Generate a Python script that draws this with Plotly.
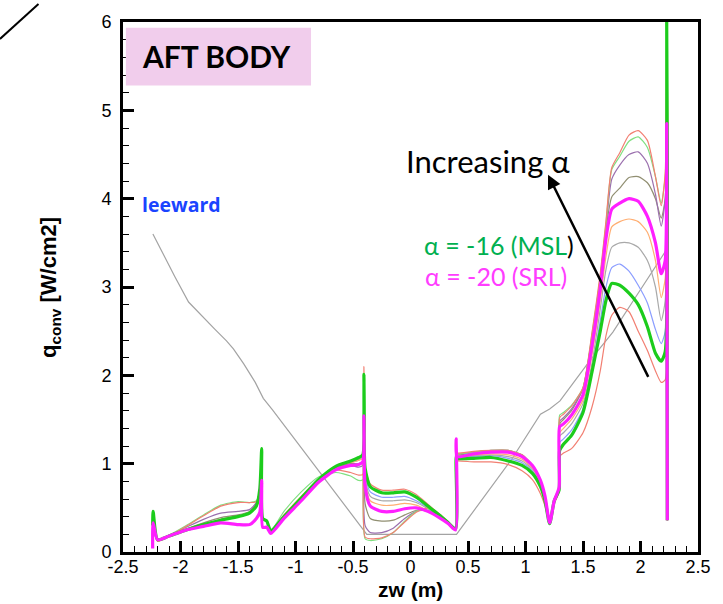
import plotly.graph_objects as go

# ---------------- data ----------------
zw = [
    # segment A
    -2.242, -2.238, -2.20, -2.10, -1.95, -1.80, -1.65, -1.50, -1.40, -1.34, -1.31, -1.294, -1.285, -1.25, -1.215,
    # segment B
    -1.10, -0.95, -0.80, -0.65, -0.52, -0.45, -0.415, -0.405,
    # segment C
    -0.395, -0.35, -0.25, -0.15, -0.05, 0.05, 0.15, 0.25, 0.33, 0.392,
    # segment D
    0.397, 0.405, 0.55, 0.70, 0.85, 0.97, 1.06, 1.13, 1.17, 1.21, 1.25, 1.292,
    # segment E
    1.297, 1.33, 1.40, 1.50, 1.58, 1.65, 1.70, 1.75, 1.82, 1.90, 1.98, 2.06, 2.13, 2.18, 2.215, 2.228, 2.233,
]

q_red_low = [
    0.30, 0.46, 0.13, 0.18, 0.25, 0.31, 0.36, 0.40, 0.45, 0.56, 0.70, 0.95, 0.38, 0.35, 0.24,
    0.40, 0.61, 0.81, 0.95, 1.02, 1.06, 1.10, 2.10,
    0.97, 0.77, 0.70, 0.70, 0.71, 0.65, 0.54, 0.43, 0.33, 0.26,
    1.02, 1.03, 1.02, 1.02, 0.99, 0.92, 0.82, 0.66, 0.52, 0.32, 0.55, 0.68,
    1.08, 1.12, 1.17, 1.35, 1.65, 2.05, 2.45, 2.68, 2.77, 2.72, 2.50, 2.28, 2.05, 1.92, 1.95, 6.0, 0.36,
]
q_green_msl = [
    0.30, 0.46, 0.14, 0.18, 0.25, 0.31, 0.36, 0.40, 0.44, 0.52, 0.72, 1.17, 0.38, 0.35, 0.24,
    0.40, 0.61, 0.82, 0.97, 1.03, 1.07, 1.10, 2.01,
    0.95, 0.74, 0.67, 0.67, 0.68, 0.62, 0.52, 0.42, 0.33, 0.26,
    1.08, 1.06, 1.06, 1.07, 1.03, 0.98, 0.89, 0.74, 0.58, 0.32, 0.58, 0.70,
    1.15, 1.22, 1.32, 1.58, 2.05, 2.50, 2.85, 3.04, 3.02, 2.93, 2.80, 2.55, 2.25, 2.16, 2.27, 6.0, 0.36,
]
q_blue = [
    0.30, 0.46, 0.14, 0.18, 0.25, 0.31, 0.36, 0.40, 0.44, 0.54, 0.70, 1.10, 0.38, 0.35, 0.24,
    0.40, 0.60, 0.81, 0.96, 1.02, 1.05, 1.08, 1.95,
    0.90, 0.68, 0.62, 0.62, 0.63, 0.58, 0.50, 0.41, 0.33, 0.26,
    1.08, 1.07, 1.08, 1.09, 1.06, 1.01, 0.92, 0.77, 0.60, 0.33, 0.58, 0.71,
    1.24, 1.28, 1.38, 1.62, 2.08, 2.62, 3.00, 3.22, 3.26, 3.18, 3.02, 2.82, 2.52, 2.36, 2.50, 6.0, 0.36,
]
q_gray = [
    0.30, 0.46, 0.14, 0.18, 0.25, 0.31, 0.36, 0.40, 0.44, 0.54, 0.70, 1.05, 0.38, 0.35, 0.24,
    0.40, 0.60, 0.80, 0.95, 1.01, 1.04, 1.07, 1.90,
    0.85, 0.63, 0.58, 0.58, 0.59, 0.56, 0.49, 0.41, 0.33, 0.26,
    1.09, 1.08, 1.09, 1.10, 1.08, 1.03, 0.94, 0.78, 0.61, 0.33, 0.58, 0.72,
    1.31, 1.35, 1.45, 1.68, 2.15, 2.75, 3.20, 3.45, 3.50, 3.50, 3.45, 3.30, 3.00, 2.62, 2.85, 6.0, 0.36,
]
q_orange = [
    0.30, 0.46, 0.14, 0.18, 0.25, 0.31, 0.37, 0.41, 0.45, 0.55, 0.70, 1.00, 0.38, 0.35, 0.24,
    0.40, 0.60, 0.80, 0.95, 1.01, 1.04, 1.06, 1.85,
    0.80, 0.58, 0.53, 0.53, 0.55, 0.53, 0.47, 0.40, 0.33, 0.26,
    1.10, 1.09, 1.10, 1.11, 1.10, 1.05, 0.95, 0.79, 0.62, 0.33, 0.58, 0.72,
    1.35, 1.40, 1.50, 1.72, 2.25, 2.85, 3.35, 3.68, 3.74, 3.77, 3.74, 3.62, 3.30, 2.88, 3.10, 6.0, 0.36,
]
q_magenta_srl = [
    0.04, 0.33, 0.14, 0.18, 0.25, 0.29, 0.33, 0.31, 0.31, 0.38, 0.45, 0.81, 0.28, 0.28, 0.21,
    0.38, 0.58, 0.79, 0.93, 0.98, 0.99, 1.02, 1.54,
    0.75, 0.52, 0.46, 0.46, 0.49, 0.50, 0.46, 0.39, 0.32, 0.25,
    1.28, 1.08, 1.11, 1.13, 1.13, 1.08, 0.98, 0.81, 0.63, 0.33, 0.58, 0.73,
    1.42, 1.45, 1.55, 1.78, 2.35, 2.98, 3.55, 3.88, 3.95, 4.00, 3.97, 3.80, 3.50, 3.15, 3.30, 4.85, 0.36,
]
q_olive = [
    0.30, 0.46, 0.14, 0.18, 0.26, 0.33, 0.39, 0.42, 0.46, 0.56, 0.70, 0.95, 0.38, 0.35, 0.24,
    0.40, 0.60, 0.80, 0.95, 1.00, 1.00, 1.02, 1.70,
    0.55, 0.38, 0.35, 0.36, 0.42, 0.47, 0.46, 0.40, 0.33, 0.26,
    1.12, 1.10, 1.12, 1.14, 1.14, 1.09, 0.97, 0.80, 0.63, 0.34, 0.58, 0.72,
    1.45, 1.50, 1.60, 1.85, 2.45, 3.10, 3.65, 4.02, 4.12, 4.24, 4.25, 4.18, 4.00, 3.78, 4.00, 6.0, 0.36,
]
q_purple = [
    0.30, 0.46, 0.14, 0.19, 0.28, 0.37, 0.44, 0.46, 0.48, 0.56, 0.68, 0.90, 0.38, 0.35, 0.24,
    0.40, 0.60, 0.80, 0.95, 0.98, 0.96, 0.98, 1.60,
    0.30, 0.22, 0.22, 0.27, 0.38, 0.46, 0.47, 0.41, 0.33, 0.26,
    1.12, 1.11, 1.13, 1.15, 1.15, 1.10, 0.98, 0.81, 0.63, 0.34, 0.58, 0.72,
    1.48, 1.52, 1.62, 1.85, 2.45, 3.10, 3.68, 4.22, 4.38, 4.50, 4.53, 4.40, 4.05, 3.69, 4.00, 6.0, 0.36,
]
q_lightgreen = [
    0.30, 0.46, 0.13, 0.19, 0.30, 0.42, 0.53, 0.57, 0.56, 0.58, 0.68, 0.90, 0.38, 0.35, 0.24,
    0.46, 0.68, 0.85, 0.90, 0.86, 0.81, 0.82, 1.50,
    0.15, 0.13, 0.15, 0.22, 0.35, 0.46, 0.49, 0.42, 0.34, 0.26,
    1.12, 1.11, 1.13, 1.15, 1.15, 1.10, 0.98, 0.81, 0.63, 0.34, 0.58, 0.72,
    1.55, 1.58, 1.66, 1.86, 2.48, 3.12, 3.72, 4.33, 4.48, 4.65, 4.70, 4.58, 4.25, 3.95, 4.25, 6.0, 0.36,
]
q_red_top = [
    0.30, 0.46, 0.12, 0.18, 0.29, 0.41, 0.52, 0.56, 0.56, 0.57, 0.68, 0.92, 0.38, 0.35, 0.24,
    0.42, 0.63, 0.82, 0.93, 0.90, 0.87, 0.88, 1.45,
    0.17, 0.15, 0.16, 0.22, 0.34, 0.45, 0.50, 0.43, 0.34, 0.26,
    1.13, 1.12, 1.14, 1.15, 1.15, 1.10, 0.98, 0.80, 0.62, 0.34, 0.58, 0.72,
    1.52, 1.56, 1.65, 1.86, 2.50, 3.15, 3.75, 4.35, 4.52, 4.72, 4.77, 4.66, 4.25, 3.92, 4.30, 6.0, 0.36,
]

zw_leeward = [-2.24, -2.15, -2.05, -1.93, -1.80, -1.70, -1.60, -1.54, -1.45, -1.35, -1.28, -1.20,
              -0.38, 0.40, 0.88, 1.13, 1.21, 1.30, 1.55, 1.76, 1.93, 2.23]
q_leeward = [3.60, 3.37, 3.12, 2.83, 2.65, 2.52, 2.39, 2.30, 2.13, 1.92, 1.74, 1.61,
             0.20, 0.20, 1.05, 1.56, 1.62, 1.71, 2.15, 2.49, 2.83, 3.43]

x_tick_vals = [-2.5, -2, -1.5, -1, -0.5, 0, 0.5, 1, 1.5, 2, 2.5]
x_tick_text = ["-2.5", "-2", "-1.5", "-1", "-0.5", "0", "0.5", "1", "1.5", "2", "2.5"]
y_tick_vals = [0, 1, 2, 3, 4, 5, 6]
y_tick_text = ["0", "1", "2", "3", "4", "5", "6"]

# ---------------- figure ----------------
fig = go.Figure()

thin_series = [
    ("red_low", q_red_low, "#f27f72"),
    ("blue", q_blue, "#8b9dff"),
    ("gray", q_gray, "#a9a9a9"),
    ("orange", q_orange, "#ffae72"),
    ("olive", q_olive, "#918f72"),
    ("purple", q_purple, "#9b70ae"),
    ("lightgreen", q_lightgreen, "#80e080"),
    ("red_top", q_red_top, "#f27f72"),
]

SM = 0.6
fig.add_trace(go.Scatter(x=zw_leeward, y=q_leeward, mode="lines",
                         line=dict(color="#a3a3a3", width=1.2), name="leeward"))
for name, ys, col in thin_series:
    fig.add_trace(go.Scatter(x=zw, y=ys, mode="lines",
                             line=dict(color=col, width=1.2, shape="spline", smoothing=SM), name=name))
fig.add_trace(go.Scatter(x=zw, y=q_green_msl, mode="lines",
                         line=dict(color="#1ccc1c", width=3.2, shape="spline", smoothing=SM), name="alpha=-16 (MSL)"))
fig.add_trace(go.Scatter(x=zw, y=q_magenta_srl, mode="lines",
                         line=dict(color="#ff1fff", width=3.2, shape="spline", smoothing=SM), name="alpha=-20 (SRL)"))

axis_common = dict(
    showgrid=False, zeroline=False, showline=True, linecolor="black", linewidth=3,
    mirror=True, ticks="inside", ticklen=11, tickwidth=2.5, tickcolor="black",
    tickfont=dict(family="Liberation Sans, Arial", size=18, color="black"),
)
fig.update_xaxes(range=[-2.5, 2.5], tickmode="array", tickvals=x_tick_vals, ticktext=x_tick_text,
                 ticklabelstandoff=-4,
                 minor=dict(dtick=0.1, ticks="inside", ticklen=6, tickwidth=1.3, tickcolor="black"),
                 **axis_common)
fig.update_yaxes(range=[0, 6], tickmode="array", tickvals=y_tick_vals, ticktext=y_tick_text,
                 ticklabelstandoff=5,
                 minor=dict(dtick=0.2, ticks="inside", ticklen=6, tickwidth=1.3, tickcolor="black"),
                 **axis_common)

fig.update_layout(
    width=723, height=604,
    margin=dict(l=123, r=25, t=18, b=52),
    paper_bgcolor="white", plot_bgcolor="white",
    showlegend=False,
    shapes=[
        dict(type="rect", xref="paper", yref="paper", x0=0.005, x1=0.327, y0=0.880, y1=0.989,
             fillcolor="#f1cdec", line=dict(width=0), layer="above"),
        dict(type="line", xref="paper", yref="paper", x0=-0.214, y0=0.968, x1=-0.147, y1=1.034,
             line=dict(color="black", width=2)),
    ],
    annotations=[
        dict(text="<b>AFT BODY</b>", xref="paper", yref="paper", x=0.162, y=0.936,
             showarrow=False, font=dict(family="Lato", size=30, color="black"),
             xanchor="center", yanchor="middle"),
        dict(text="<b>leeward</b>", x=-1.987, y=3.93, showarrow=False,
             font=dict(family="Open Sans", size=19.5, color="#1a44ff"), xanchor="center", yanchor="middle"),
        dict(text="Increasing α", x=0.674, y=4.43, showarrow=False,
             font=dict(family="Lato", size=31, color="black"), xanchor="center", yanchor="middle"),
        dict(text="", x=1.196, y=4.27, ax=2.074, ay=1.966, axref="x", ayref="y",
             showarrow=True, arrowhead=2, arrowsize=1.1, arrowwidth=2.5, arrowcolor="black"),
        dict(text="α = -16 (MSL<span style='color:black'>)</span>", x=0.77, y=3.47, showarrow=False,
             font=dict(family="Lato", size=25, color="#00b050"), xanchor="center", yanchor="middle"),
        dict(text="α = -20 (SRL)", x=0.745, y=3.12, showarrow=False,
             font=dict(family="Lato", size=25, color="#ff3dff"), xanchor="center", yanchor="middle"),
        dict(text="<b>zw (m)</b>", xref="paper", yref="paper", x=0.5, y=-0.07, showarrow=False,
             font=dict(family="Liberation Sans, Arial", size=21, color="black"),
             xanchor="center", yanchor="middle"),
        dict(text="<b>q<sub>conv</sub> [W/cm2]</b>", xref="paper", yref="paper", x=-0.127, y=0.5,
             showarrow=False, textangle=-90,
             font=dict(family="Liberation Sans, Arial", size=22, color="black"),
             xanchor="center", yanchor="middle"),
    ],
)

fig.write_html("out.html")
